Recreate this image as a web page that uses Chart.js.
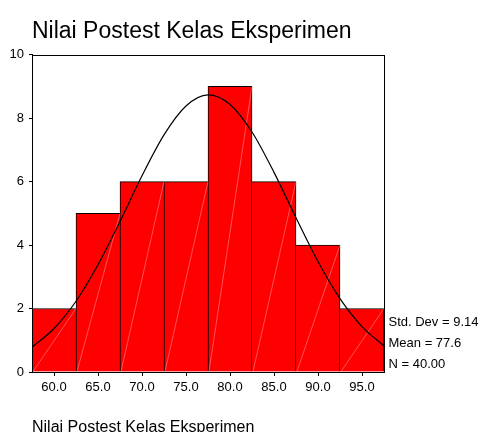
<!DOCTYPE html>
<html>
<head>
<meta charset="utf-8">
<script src="https://cdn.jsdelivr.net/npm/chart.js@4.4.1/dist/chart.umd.min.js"></script>
<style>
  html, body { margin: 0; padding: 0; background: #fff; }
  #wrap { position: relative; width: 479px; height: 432px; }
</style>
</head>
<body>
<div id="wrap"><canvas id="hist" width="479" height="432"></canvas></div>
<script>
const chartTitle = 'Nilai Postest Kelas Eksperimen';
const axisLabel = 'Nilai Postest Kelas Eksperimen';
const binCenters = [60, 65, 70, 75, 80, 85, 90, 95];
const counts = [2, 5, 6, 6, 9, 6, 4, 2];
const curveX = [57.5, 60, 62.5, 65, 67.5, 70, 72.5, 75, 77.5, 80, 82.5, 85, 87.5, 90, 92.5, 95, 97.5];
const curveY = [0.78, 1.37, 2.23, 3.38, 4.74, 6.18, 7.47, 8.38, 8.73, 8.43, 7.56, 6.29, 4.86, 3.48, 2.31, 1.43, 0.82];
const yTicks = [0, 2, 4, 6, 8, 10];
const statLines = ['Std. Dev = 9.14', 'Mean = 77.6', 'N = 40.00'];

Chart.defaults.font.family = '"Liberation Sans", Arial, sans-serif';
Chart.defaults.color = '#000';

// one faint white diagonal per bar, corner to corner
const hatch = {
  id: 'hatch',
  afterDatasetDraw(chart, args) {
    if (args.index !== 1) return;
    const ctx = chart.ctx;
    ctx.save();
    ctx.strokeStyle = 'rgba(255,255,255,0.32)';
    ctx.lineWidth = 1;
    args.meta.data.forEach(bar => {
      const { x, y, base, width } = bar.getProps(['x', 'y', 'base', 'width'], true);
      ctx.beginPath();
      ctx.moveTo(x - width / 2 + 1, base);
      ctx.lineTo(x + width / 2, y);
      ctx.stroke();
    });
    ctx.restore();
  }
};

const frame = {
  id: 'frame',
  afterDraw(chart) {
    const { ctx, chartArea: a } = chart;
    ctx.save();
    ctx.strokeStyle = '#000';
    ctx.lineWidth = 1;
    const l = Math.round(a.left) + 0.5, t = Math.round(a.top) + 0.5;
    const r = Math.round(a.right) + 0.5, b = Math.round(a.bottom) + 0.5;
    ctx.strokeRect(l, t, r - l, b - t);

    ctx.fillStyle = '#000';
    ctx.font = '13px "Liberation Sans", Arial, sans-serif';
    ctx.textBaseline = 'alphabetic';
    const offs = [-46, -25, -4];
    statLines.forEach((s, i) => ctx.fillText(s, a.right + 4.5, a.bottom + offs[i]));
    ctx.restore();
  }
};

const ctx = document.getElementById('hist').getContext('2d');
new Chart(ctx, {
  type: 'bar',
  data: {
    datasets: [
      {
        type: 'line',
        data: curveX.map((x, i) => ({ x, y: curveY[i] })),
        borderColor: '#000',
        borderWidth: 1.2,
        pointRadius: 0,
        cubicInterpolationMode: 'monotone',
        fill: false,
        order: 0
      },
      {
        data: binCenters.map((x, i) => ({ x, y: counts[i] })),
        backgroundColor: '#ff0000',
        borderColor: '#000',
        borderWidth: c => {
          const i = c.dataIndex;
          if (i === undefined) return 1;
          const h = counts[i];
          const prev = i > 0 ? counts[i - 1] : -1;
          const next = i < counts.length - 1 ? counts[i + 1] : -1;
          return { top: 1, bottom: 0, left: prev <= h ? 1 : 0, right: next < h ? 1 : 0 };
        },
        barPercentage: 1,
        categoryPercentage: 1,
        order: 1
      }
    ]
  },
  options: {
    responsive: false,
    animation: false,
    layout: { padding: { left: 0, right: 95, top: 0, bottom: 0 } },
    plugins: {
      legend: { display: false },
      tooltip: { enabled: false },
      title: {
        display: true,
        text: chartTitle,
        align: 'start',
        fullSize: false,
        color: '#000',
        font: { size: 23, weight: 'normal' },
        padding: { top: 18, bottom: 9 }
      }
    },
    scales: {
      x: {
        type: 'linear',
        min: 57.5,
        max: 97.5,
        offset: false,
        afterBuildTicks: s => { s.ticks = binCenters.map(v => ({ value: v })); },
        afterFit: s => { s.height = 60; },
        ticks: {
          callback: v => Number(v).toFixed(1),
          font: { size: 13 },
          color: '#000',
          autoSkip: false,
          maxRotation: 0,
          padding: 4
        },
        grid: { offset: false, drawOnChartArea: false, drawTicks: true, tickLength: 4, color: '#000' },
        border: { color: '#000' },
        title: {
          display: true,
          text: axisLabel,
          align: 'start',
          color: '#000',
          font: { size: 16 },
          padding: { top: 0, bottom: -5 }
        }
      },
      y: {
        min: 0,
        max: 10,
        afterBuildTicks: s => { s.ticks = yTicks.map(v => ({ value: v })); },
        afterFit: s => { s.width = 32; },
        ticks: { font: { size: 13 }, color: '#000', padding: 5 },
        grid: { drawOnChartArea: false, drawTicks: true, tickLength: 3, color: '#000' },
        border: { color: '#000' }
      }
    }
  },
  plugins: [hatch, frame]
});
</script>
</body>
</html>
